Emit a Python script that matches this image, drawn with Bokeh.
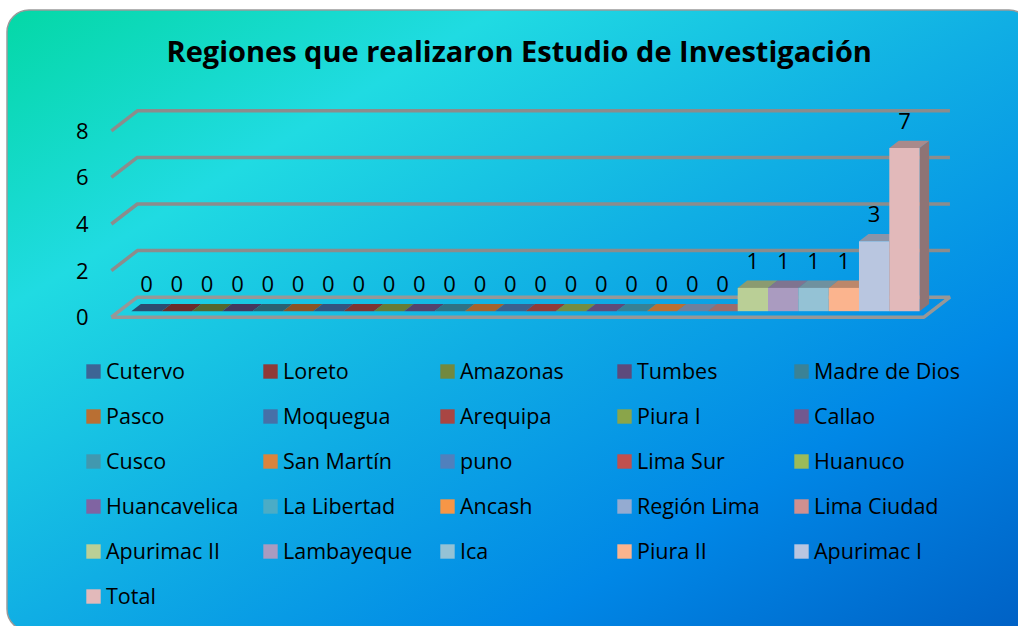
from urllib.parse import quote

from bokeh.embed import file_html
from bokeh.models import FixedTicker, Legend, LegendItem, Range1d
from bokeh.plotting import figure
from bokeh.resources import INLINE
from bokeh.core.properties import value

TITLE = "Regiones que realizaron Estudio de Investigación"
categories = ["Cutervo", "Loreto", "Amazonas", "Tumbes", "Madre de Dios",
              "Pasco", "Moquegua", "Arequipa", "Piura I", "Callao",
              "Cusco", "San Martín", "puno", "Lima Sur", "Huanuco",
              "Huancavelica", "La Libertad", "Ancash", "Región Lima", "Lima Ciudad",
              "Apurimac II", "Lambayeque", "Ica", "Piura II", "Apurimac I",
              "Total"]
values = [0, 0, 0, 0, 0, 0, 0, 0, 0, 0, 0, 0, 0, 0, 0, 0, 0, 0, 0, 0,
          1, 1, 1, 1, 3, 7]
colors = ["#3D6595", "#8F3A38", "#72893F", "#5D4A7C", "#3A8296",
          "#B96F33", "#4670A8", "#A94643", "#8AA54A", "#71588F",
          "#4198AF", "#DB843D", "#5080BD", "#C0504D", "#9BBB59",
          "#8064A2", "#4BACC6", "#F79646", "#94ABD1", "#D09090",
          "#BACF96", "#AA9BC0", "#94C2D5", "#FBB48E", "#B9C6E0",
          "#E2B9BA"]
y_ticks = [0, 2, 4, 6, 8]

FONT = "Open Sans"
GRID = "#8c8c8c"

# geometry of the picture (px)
W, H = 1018, 626
FRAME_L, FRAME_T = 84, 76
PX_X, PX_Y = 30.32, 23.3       # px per category / per value unit
ORIGIN_X, ORIGIN_Y = 123, 316.7

# oblique projection: full floor depth in data units
DX, DY = 26 / PX_X, 20 / PX_Y
D1, D2 = 0.30, 0.665           # bars sit between these depths
X0, X1 = -0.4, len(values) + 0.4


def shade(col, f):
    r, g, b = (int(col[k:k + 2], 16) for k in (1, 3, 5))
    return "#%02x%02x%02x" % (int(r * f), int(g * f), int(b * f))


# chart-area backdrop: rounded box running off the right and bottom edges
backdrop = f"""<svg xmlns='http://www.w3.org/2000/svg' width='{W}' height='{H}'>
<defs><linearGradient id='g' gradientUnits='userSpaceOnUse' x1='244' y1='-134' x2='794' y2='774'>
<stop offset='0' stop-color='#04d8a6'/><stop offset='.24' stop-color='#20dbe2'/>
<stop offset='.5' stop-color='#10aee4'/><stop offset='.75' stop-color='#0087e6'/>
<stop offset='1' stop-color='#0060c4'/></linearGradient></defs>
<rect x='7' y='10' width='1024' height='621' rx='22' ry='22' fill='url(#g)' stroke='#9a9a9a' stroke-width='1.5'/>
</svg>"""

p = figure(width=W, height=H, output_backend="svg", toolbar_location=None,
           x_range=Range1d((FRAME_L - ORIGIN_X) / PX_X, (W - ORIGIN_X) / PX_X),
           y_range=Range1d(-(H - ORIGIN_Y) / PX_Y, (ORIGIN_Y - FRAME_T) / PX_Y),
           min_border_left=FRAME_L, min_border_right=0,
           min_border_top=FRAME_T, min_border_bottom=0)
p.styles = {"background": 'url("data:image/svg+xml,' + quote(backdrop) + '") no-repeat'}
p.background_fill_alpha = 0
p.border_fill_alpha = 0
p.outline_line_alpha = 0
p.grid.visible = False
p.xaxis.visible = False

p.title.text = TITLE
p.title.text_font = FONT
p.title.text_font_style = "bold"
p.title.text_font_size = "29px"
p.title.text_color = "black"
p.title.align = "left"
p.title.offset = 166 - FRAME_L
p.title.standoff = 14

ax = p.yaxis[0]
ax.ticker = FixedTicker(ticks=y_ticks)
ax.axis_line_color = None
ax.major_tick_line_color = None
ax.minor_tick_line_color = None
ax.major_label_standoff = -10
ax.major_label_text_font = FONT
ax.major_label_text_font_size = "22px"
ax.major_label_text_color = "black"

# wall gridlines with their diagonal run to the front
xs = [[X0, X0 + DX, X1 + DX] for _ in y_ticks[1:]]
ys = [[t, t + DY, t + DY] for t in y_ticks[1:]]
p.multi_line(xs, ys, line_color=GRID, line_width=3.5)
# floor outline
p.line([X0, X1, X1 + DX, X0 + DX, X0], [0, 0, DY, DY, 0], line_color="#979797", line_width=3.5)

items = []
for i, (name, v, c) in enumerate(zip(categories, values, colors)):
    fl, fr = i + D1 * DX, i + 1 + D1 * DX
    bl, br = i + D2 * DX, i + 1 + D2 * DX
    fb, bb = D1 * DY, D2 * DY
    p.patch([fr, br, br, fr], [fb, bb, bb + v, fb + v], fill_color=shade(c, 0.63), line_color=None)
    p.patch([fl, fr, br, bl], [fb + v, fb + v, bb + v, bb + v], fill_color=shade(c, 0.75), line_color=None)
    q = p.quad(left=fl, right=fr, bottom=fb, top=fb + v, fill_color=c, line_color=None)
    items.append(LegendItem(label=name, renderers=[q]))

p.text(x=[i + 0.5 + D1 * DX for i in range(len(values))],
       y=[v + D1 * DY for v in values],
       text=[str(v) for v in values],
       text_font=value(FONT), text_font_size="22px", text_color="black",
       text_align="center", text_baseline="middle", y_offset=-27)

legend = Legend(items=items, orientation="horizontal", ncols=5,
                location=(84 - FRAME_L, H - 618),
                border_line_alpha=0, background_fill_alpha=0,
                margin=0, padding=0, spacing=0,
                glyph_width=18, glyph_height=18, label_standoff=4,
                label_width=155, label_height=45,
                label_text_font=FONT, label_text_font_size="21.5px", label_text_color="black")
p.add_layout(legend)

open("out.html", "w").write(file_html(p, INLINE))
